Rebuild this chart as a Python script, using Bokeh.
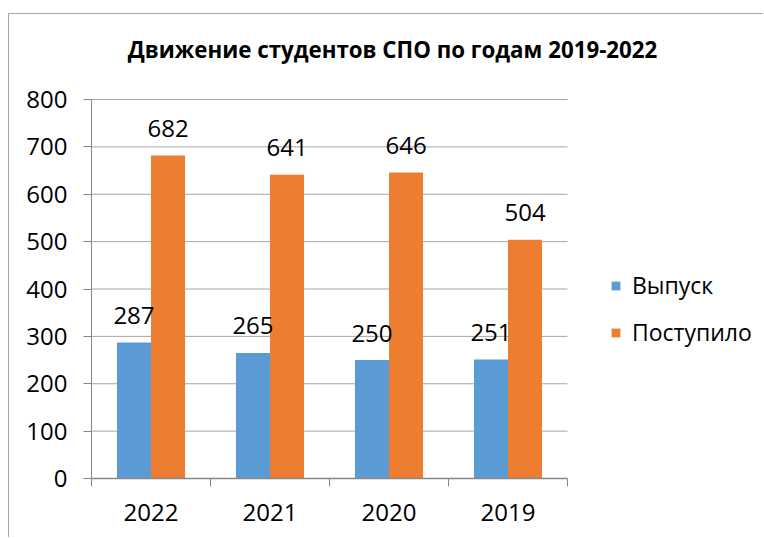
from bokeh.plotting import figure
from bokeh.models import FixedTicker, Legend, LegendItem, Label, ColumnDataSource
from bokeh.transform import dodge
from bokeh.core.properties import value
from bokeh.embed import file_html
from bokeh.resources import INLINE

years = ["2022", "2021", "2020", "2019"]
graduated = [287, 265, 250, 251]
admitted = [682, 641, 646, 504]
y_ticks = [0, 100, 200, 300, 400, 500, 600, 700, 800]
series_names = ["Выпуск", "Поступило"]
title_text = "Движение студентов СПО по годам 2019-2022"

FONT = "Open Sans"
FS = "24px"
BLUE = "#5B9BD5"
ORANGE = "#ED7D31"
GRID = "#A6A6A6"
AXIS = "#868686"

# frame geometry (pixels): plot area 476 x 379 px for 4 categories x 800 units,
# the frame is extended right/up to hold legend and title without clipping
PX_PER_CAT = 119.0
PX_PER_UNIT = 379.0 / 800
FRAME_W = 673
FRAME_H = 464

xpos = [i + 0.5 for i in range(len(years))]
src = ColumnDataSource(dict(
    x=xpos, g=graduated, a=admitted,
    gl=[str(v) for v in graduated], al=[str(v) for v in admitted],
))

p = figure(width=755, height=524,
           x_range=(0, FRAME_W / PX_PER_CAT), y_range=(0, FRAME_H / PX_PER_UNIT),
           output_backend="svg", toolbar_location=None,
           min_border_left=82, min_border_top=0, min_border_right=0, min_border_bottom=60)
p.margin = (13, 0, 0, 8)
p.styles = {"border-left": "1px solid #A6A6A6", "border-top": "1px solid #A6A6A6"}
p.outline_line_color = None
p.background_fill_color = "white"
p.border_fill_color = "white"
p.xgrid.visible = False
p.ygrid.visible = False

# horizontal grid lines limited to plot area
grid_y = [t for t in y_ticks if t > 0]
p.segment(x0=[0] * len(grid_y), x1=[len(years)] * len(grid_y), y0=grid_y, y1=grid_y,
          line_color=GRID, line_width=1)

bw = 0.286
r1 = p.vbar(x=dodge("x", -bw / 2), top="g", width=bw, source=src, fill_color=BLUE, line_color=None)
r2 = p.vbar(x=dodge("x", bw / 2), top="a", width=bw, source=src, fill_color=ORANGE, line_color=None)

p.text(x=dodge("x", -bw / 2), y="g", text="gl", source=src, text_align="center",
       text_baseline="alphabetic", y_offset=-27, text_font=value(FONT), text_font_size=FS,
       text_color="black")
p.text(x=dodge("x", bw / 2), y="a", text="al", source=src, text_align="center",
       text_baseline="alphabetic", y_offset=-27, text_font=value(FONT), text_font_size=FS,
       text_color="black")

# axes
xa = p.xaxis[0]
xa.bounds = (0, len(years))
xa.ticker = FixedTicker(ticks=xpos, minor_ticks=list(range(len(years) + 1)))
xa.major_label_overrides = {xv: yr for xv, yr in zip(xpos, years)}
xa.major_tick_line_color = None
xa.minor_tick_line_color = AXIS
xa.minor_tick_in = 0
xa.minor_tick_out = 8
xa.axis_line_color = AXIS
xa.axis_line_width = 1.5
xa.major_label_text_font = FONT
xa.major_label_text_font_size = FS
xa.major_label_text_color = "black"
xa.major_label_standoff = 17

ya = p.yaxis[0]
ya.bounds = (0, 800)
ya.ticker = FixedTicker(ticks=y_ticks)
ya.major_tick_in = 0
ya.major_tick_out = 8
ya.major_tick_line_color = AXIS
ya.minor_tick_line_color = None
ya.axis_line_color = AXIS
ya.major_label_text_font = FONT
ya.major_label_text_font_size = FS
ya.major_label_text_color = "black"
ya.major_label_standoff = 16

p.add_layout(Label(x=301, y=429, x_units="screen", y_units="screen", text=title_text,
                   text_align="center", text_baseline="alphabetic", text_font=FONT,
                   text_font_size="22.3px", text_font_style="bold", text_color="black"))

legend = Legend(items=[LegendItem(label=series_names[0], renderers=[r1]),
                       LegendItem(label=series_names[1], renderers=[r2])],
                location=(519, 130), orientation="vertical", glyph_width=11, glyph_height=11,
                label_standoff=11, spacing=15, padding=0, margin=0,
                border_line_color=None, background_fill_alpha=0,
                label_text_font=FONT, label_text_font_size="23px", label_text_color="black",
                label_height=20)
p.add_layout(legend)

open("out.html", "w").write(file_html(p, INLINE))
